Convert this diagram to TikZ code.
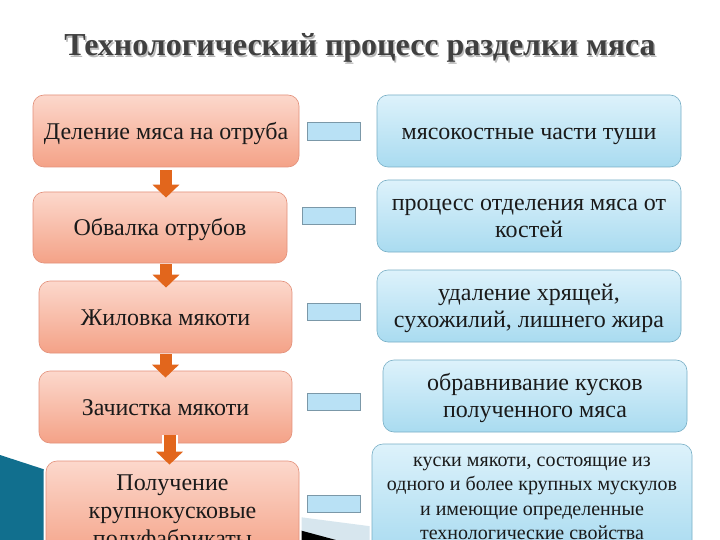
\documentclass[tikz,border=0pt]{standalone}
\usepackage{fontspec}
\setmainfont{Liberation Serif}
\usetikzlibrary{arrows.meta,calc}
\definecolor{salmonT}{HTML}{FCD8CC}
\definecolor{salmonB}{HTML}{F4A287}
\definecolor{salmonD}{HTML}{E3907A}
\definecolor{skyT}{HTML}{DDF2FB}
\definecolor{skyB}{HTML}{A9DBF0}
\definecolor{skyD}{HTML}{78AFC6}
\definecolor{chip}{HTML}{B9E1F5}
\definecolor{chipD}{HTML}{7B98A8}
\definecolor{arrowor}{HTML}{E2661C}
\definecolor{titlegray}{HTML}{404040}
\definecolor{teal}{HTML}{116F8E}
\definecolor{fanblue}{HTML}{D7E6EE}
\definecolor{inkc}{HTML}{1A1A1A}
\newcommand\pptop{\rule{0pt}{0.9em}}
\newcommand\ppbot{\rule[-0.22em]{0pt}{0pt}}
\tikzset{
  boxtext/.style={text=inkc, align=center, inner sep=0pt},
  stepbox/.style={boxtext, draw=salmonD, line width=0.6pt, rounded corners=11pt,
    top color=salmonT, bottom color=salmonB,
    font=\fontsize{24}{28}\selectfont,
    preaction={draw=white, line width=5pt}},
  defbox/.style={boxtext, draw=skyD, line width=0.6pt, rounded corners=11pt,
    top color=skyT, bottom color=skyB,
    font=\fontsize{24}{27}\selectfont,
    preaction={draw=white, line width=5pt}},
  chipbox/.style={draw=chipD, line width=0.7pt, fill=chip, inner sep=0pt,
    minimum width=53pt, minimum height=17pt},
  flowarr/.style={draw=arrowor, line width=12pt,
    -{Triangle[width=26pt,length=13pt]},
    preaction={draw=white, line width=16pt, -{Triangle[width=32pt,length=16pt]}}}
}
\begin{document}
\begin{tikzpicture}[x=1pt,y=-1pt]
\useasboundingbox (0,0) rectangle (720,540);
\clip (0,0) rectangle (720,540);
\fill[white] (0,0) rectangle (720,540);
% background decoration (bottom left)
\fill[teal] (0,455) -- (46,470) -- (46,540) -- (0,540) -- cycle;
\fill[fanblue] (299,517) -- (376,527) -- (376,540) -- (299,540) -- cycle;
\fill[black] (299,530) -- (336,540) -- (299,540) -- cycle;
% title
\node[text=gray!55, font=\bfseries\fontsize{32}{38}\selectfont] (titleshadow) at (361.5,49.5) {Технологический процесс разделки мяса};
\node[text=titlegray, font=\bfseries\fontsize{32}{38}\selectfont] (title) at (360,48) {Технологический процесс разделки мяса};
% left steps
\node[stepbox, minimum width=266pt, minimum height=72pt] (b1) at (166,131) {\pptop Деление мяса на отруба\ppbot};
\node[stepbox, minimum width=254pt, minimum height=71pt] (b2) at (160,227.5) {\pptop Обвалка отрубов\ppbot};
\node[stepbox, minimum width=253pt, minimum height=72pt] (b3) at (165.5,317) {\pptop Жиловка мякоти\ppbot};
\node[stepbox, minimum width=253pt, minimum height=72pt] (b4) at (165.5,407) {\pptop Зачистка мякоти\ppbot};
\node[stepbox, minimum width=253pt, minimum height=98pt] (b5) at (172.5,510) {\pptop Получение\\крупнокусковые\\полуфабрикаты\ppbot};
% right definitions
\node[defbox, minimum width=304pt, minimum height=72pt] (c1) at (529,131) {\pptop мясокостные части туши\ppbot};
\node[defbox, minimum width=304pt, minimum height=72pt] (c2) at (529,216) {\pptop процесс отделения мяса от\\костей\ppbot};
\node[defbox, minimum width=304pt, minimum height=72pt] (c3) at (529,306) {\pptop удаление хрящей,\\сухожилий, лишнего жира\ppbot};
\node[defbox, minimum width=304pt, minimum height=72pt] (c4) at (535,396) {\pptop обравнивание кусков\\полученного мяса\ppbot};
\node[defbox, minimum width=320pt, minimum height=109pt, font=\fontsize{20}{24.3}\selectfont] (c5) at (532,498.5) {куски мякоти, состоящие из\\одного и более крупных мускулов\\и имеющие определенные\\технологические свойства};
% chips
\node[chipbox, minimum height=18pt] (r1) at (333.5,131) {};
\node[chipbox] (r2) at (328.5,215.5) {};
\node[chipbox] (r3) at (333.5,311.5) {};
\node[chipbox] (r4) at (333.5,401.5) {};
\node[chipbox] (r5) at (333.5,503.5) {};
% flow arrows
\draw[flowarr] ([yshift=-3pt]b1.south) -- ([yshift=-6pt]b1.south |- b2.north);
\draw[flowarr] ([xshift=6pt,yshift=-1pt]b2.south) -- ([xshift=6pt,yshift=-7pt]b2.south |- b3.north);
\draw[flowarr] ([yshift=-1pt]b3.south) -- ([yshift=-7pt]b3.south |- b4.north);
\draw[flowarr] ([xshift=4pt,yshift=8pt]b4.south) -- ([xshift=4pt,yshift=-4pt]b4.south |- b5.north);
\end{tikzpicture}
\end{document}
